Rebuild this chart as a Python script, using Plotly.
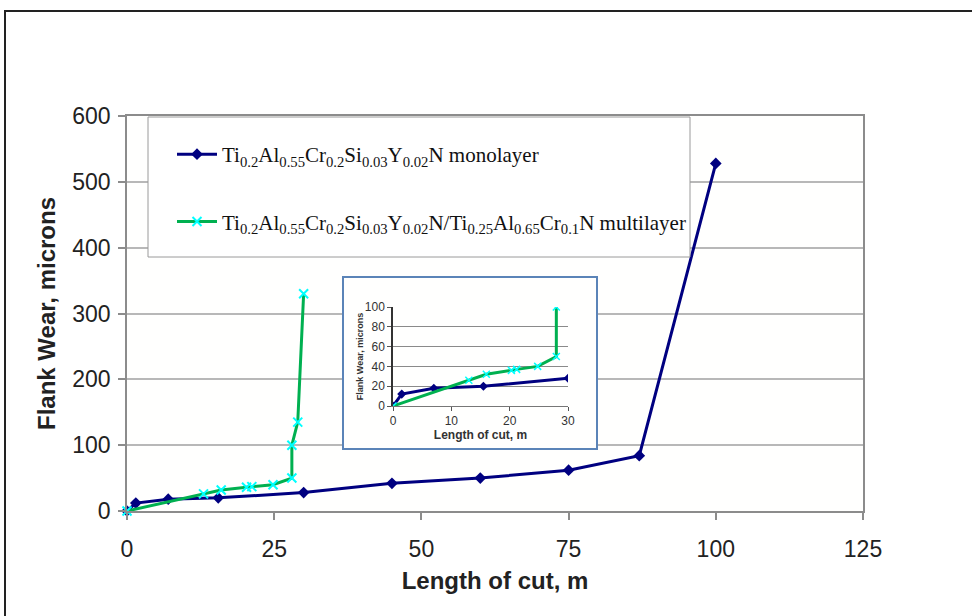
import plotly.graph_objects as go

# ---- data ----
mono_x = [0, 1.5, 7, 15.5, 30, 45, 60, 75, 87, 100]
mono_y = [0, 12, 18, 20, 28, 42, 50, 62, 84, 528]
multi_x = [0, 13, 16, 20.3, 21.2, 24.8, 28, 28, 29, 30]
multi_y = [0, 26, 32, 36, 37, 40, 50, 100, 135, 330]

main_xticks = [0, 25, 50, 75, 100, 125]
main_yticks = [0, 100, 200, 300, 400, 500, 600]
inset_xticks = [0, 10, 20, 30]
inset_yticks = [0, 20, 40, 60, 80, 100]

mono_name = "Ti<sub>0.2</sub>Al<sub>0.55</sub>Cr<sub>0.2</sub>Si<sub>0.03</sub>Y<sub>0.02</sub>N monolayer"
multi_name = ("Ti<sub>0.2</sub>Al<sub>0.55</sub>Cr<sub>0.2</sub>Si<sub>0.03</sub>Y<sub>0.02</sub>N/"
              "Ti<sub>0.25</sub>Al<sub>0.65</sub>Cr<sub>0.1</sub>N multilayer")

NAVY = "#000080"
GREEN = "#00B050"
CYAN = "#00FFFF"

fig = go.Figure()

# main traces
fig.add_trace(go.Scatter(x=mono_x, y=mono_y, name=mono_name, mode="lines+markers",
                         line=dict(color=NAVY, width=3),
                         marker=dict(symbol="diamond", size=9, color=NAVY),
                         legendgroup="a", cliponaxis=False))
fig.add_trace(go.Scatter(x=multi_x, y=multi_y, name=multi_name, mode="lines+markers",
                         line=dict(color=GREEN, width=3),
                         marker=dict(symbol="x-thin", size=9, color=CYAN,
                                     line=dict(color=CYAN, width=2)),
                         legendgroup="b", cliponaxis=False))

# filler subplot (white background for inset box)
fig.add_trace(go.Scatter(x=[], y=[], xaxis="x2", yaxis="y2", showlegend=False))

# inset traces
fig.add_trace(go.Scatter(x=mono_x, y=mono_y, mode="lines+markers", xaxis="x3", yaxis="y3",
                         line=dict(color=NAVY, width=3),
                         marker=dict(symbol="diamond", size=7, color=NAVY),
                         showlegend=False))
fig.add_trace(go.Scatter(x=multi_x, y=multi_y, mode="lines+markers", xaxis="x3", yaxis="y3",
                         line=dict(color=GREEN, width=3),
                         marker=dict(symbol="x-thin", size=7, color=CYAN,
                                     line=dict(color=CYAN, width=1.5)),
                         showlegend=False))

W, H = 972, 616
ml, mr, mt, mb = 127, 109, 116, 105
pw, ph = W - ml - mr, H - mt - mb


def px(x):
    return (x - ml) / pw


def py(y):
    return (H - mb - y) / ph


axis_font = dict(family="Arial", size=23, color="#222222")
title_font = dict(family="Arial", size=24, color="#222222")

fig.update_layout(
    width=W, height=H, autosize=False,
    margin=dict(l=ml, r=mr, t=mt, b=mb, pad=0),
    paper_bgcolor="#FFFFFF", plot_bgcolor="#FFFFFE",
    showlegend=True,
    legend=dict(x=px(172), y=py(134), xanchor="left", yanchor="top",
                bgcolor="rgba(0,0,0,0)", borderwidth=0, itemwidth=40,
                font=dict(family="Liberation Serif", size=21, color="#111111"),
                tracegroupgap=37, traceorder="grouped"),
    xaxis=dict(domain=[0, 1], range=[0, 125], tickvals=main_xticks,
               showgrid=False, zeroline=False,
               showline=True, linecolor="#8c8c8c", linewidth=1.5, mirror=True,
               ticks="outside", ticklen=7, tickcolor="#8c8c8c", tickwidth=1.5,
               tickfont=axis_font, ticklabelstandoff=10,
               title=dict(text="<b>Length of cut, m</b>", font=title_font, standoff=11)),
    yaxis=dict(domain=[0, 1], range=[0, 600], tickvals=main_yticks,
               showgrid=True, gridcolor="#b8b8b8", gridwidth=1.5, zeroline=False,
               showline=True, linecolor="#8c8c8c", linewidth=1.5, mirror=True,
               ticks="outside", ticklen=7, tickcolor="#8c8c8c", tickwidth=1.5,
               tickfont=axis_font, ticklabelstandoff=3,
               title=dict(text="<b>Flank Wear, microns</b>", font=title_font, standoff=10)),
    xaxis2=dict(domain=[px(344), px(596)], anchor="y2", visible=False, range=[0, 1]),
    yaxis2=dict(domain=[py(448), py(278)], anchor="x2", visible=False, range=[0, 1]),
    xaxis3=dict(domain=[px(393), px(568)], anchor="y3", range=[0, 30], tickvals=inset_xticks,
                showgrid=False, zeroline=False, showline=True, linecolor="#777777", linewidth=1,
                ticks="outside", ticklen=4, tickcolor="#555555",
                tickfont=dict(family="Arial", size=12, color="#333333"),
                title=dict(text="<b>Length of cut, m</b>", font=dict(family="Arial", size=12, color="#333333"),
                           standoff=2)),
    yaxis3=dict(domain=[py(406), py(307)], anchor="x3", range=[0, 100], tickvals=inset_yticks,
                showgrid=True, gridcolor="#8a8a8a", gridwidth=1, zeroline=False,
                showline=True, linecolor="#333333", linewidth=1.5,
                ticks="outside", ticklen=4, tickcolor="#555555",
                tickfont=dict(family="Arial", size=12, color="#333333"),
                title=dict(text="<b>Flank Wear, microns</b>", font=dict(family="Arial", size=9, color="#333333"),
                           standoff=0)),
    shapes=[
        # outer chart frame
        dict(type="rect", xref="paper", yref="paper", x0=px(5), x1=px(990), y0=py(640), y1=py(11),
             line=dict(color="#222222", width=2), fillcolor="rgba(0,0,0,0)", layer="below"),
        # legend box
        dict(type="rect", xref="paper", yref="paper", x0=px(148), x1=px(690), y0=py(257), y1=py(117),
             line=dict(color="#9a9a9a", width=1), fillcolor="#FFFFFF", layer="above"),
        # inset border
        dict(type="rect", xref="paper", yref="paper", x0=px(343), x1=px(597), y0=py(449), y1=py(277),
             line=dict(color="#5B84B8", width=2), fillcolor="rgba(0,0,0,0)", layer="above"),
    ],
)

fig.write_html("out.html", config={"displayModeBar": False},
               post_script="document.body.style.margin='0px';")
